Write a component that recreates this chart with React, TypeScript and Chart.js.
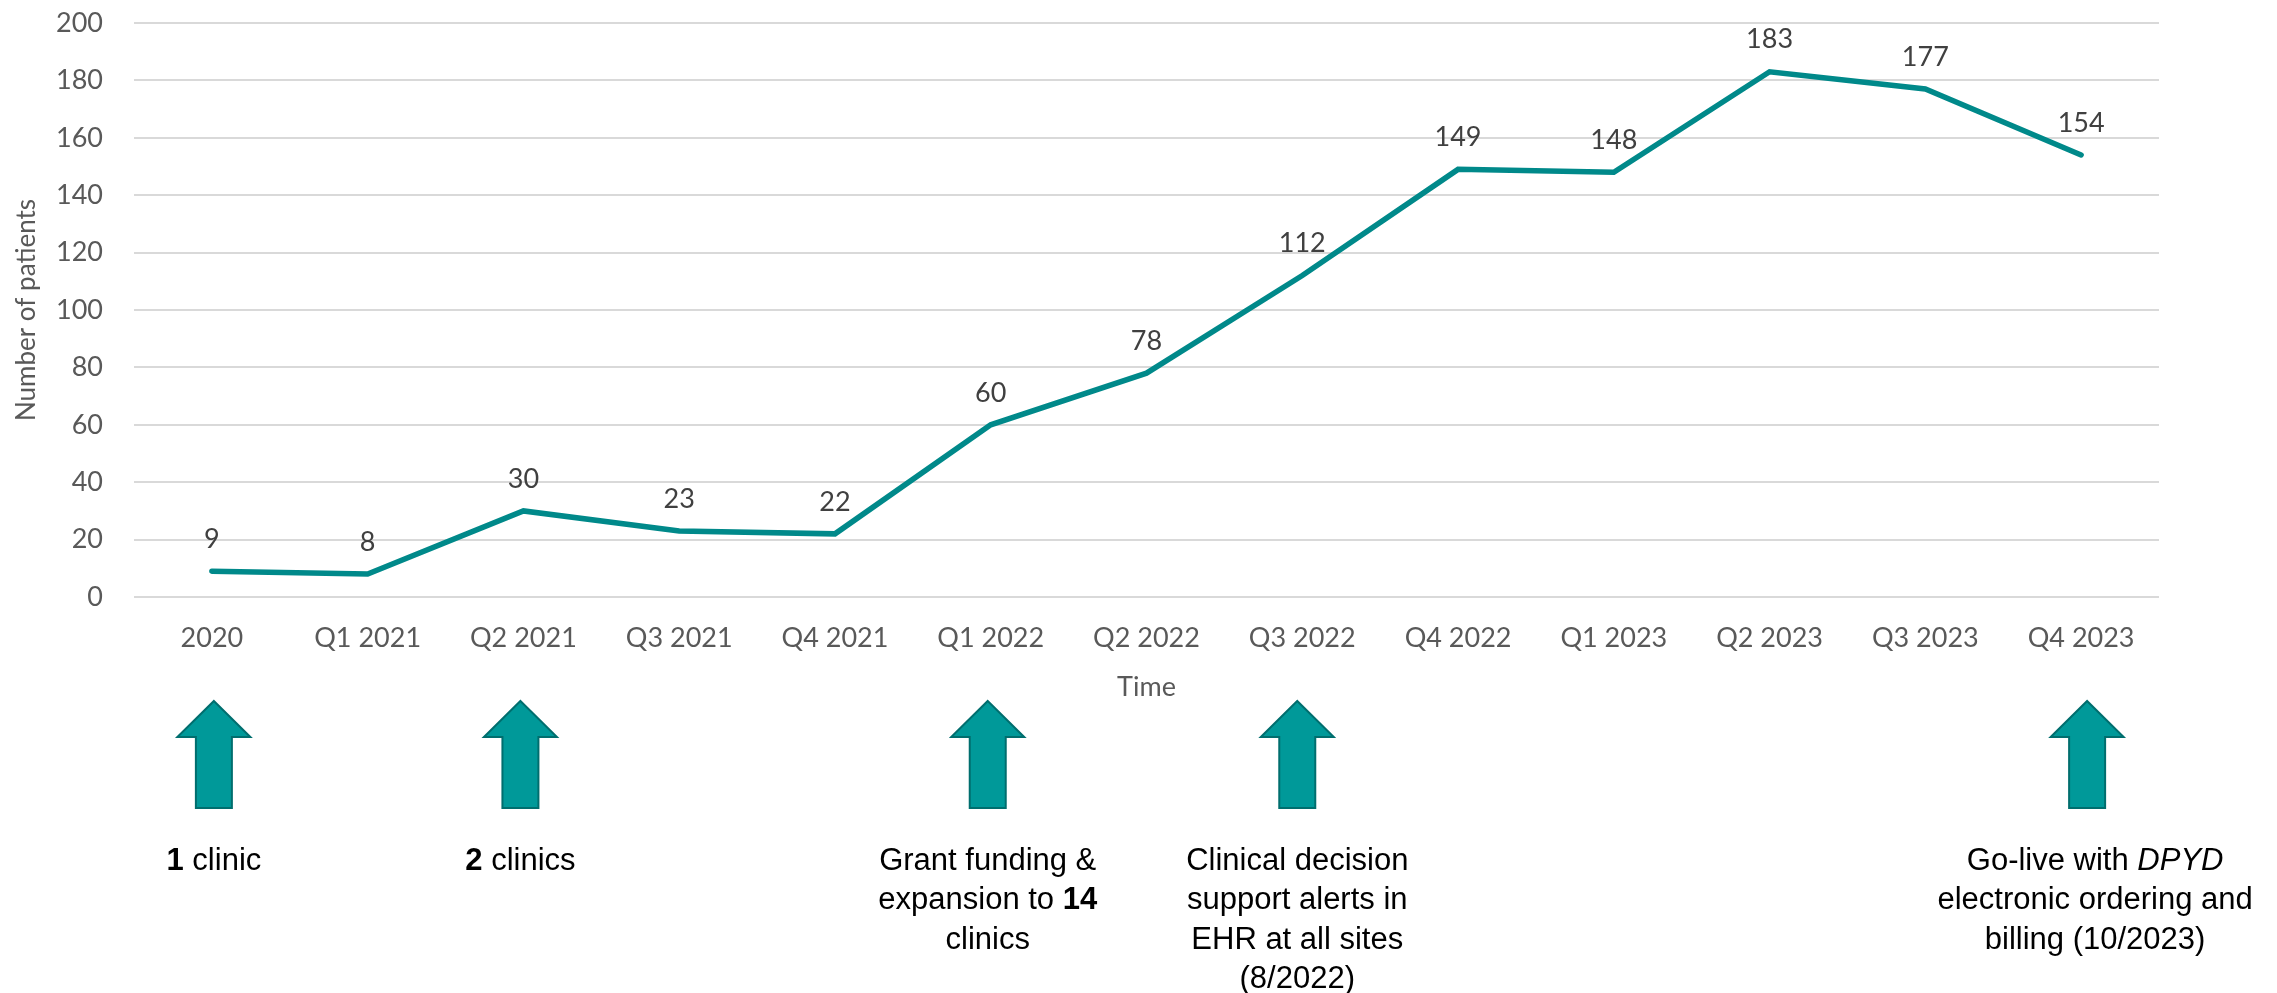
import React, { useEffect, useRef } from "react";
import { Chart, registerables } from "chart.js";

Chart.register(...registerables);

// ---- Data ----
const categories = [
  "2020", "Q1 2021", "Q2 2021", "Q3 2021", "Q4 2021", "Q1 2022", "Q2 2022",
  "Q3 2022", "Q4 2022", "Q1 2023", "Q2 2023", "Q3 2023", "Q4 2023",
];
const patients = [9, 8, 30, 23, 22, 60, 78, 112, 149, 148, 183, 177, 154];
const yMin = 0;
const yMax = 200;
const yStep = 20;
const yAxisTitle = "Number of patients";
const xAxisTitle = "Time";

// Milestones: category index + text lines (segments with styles)
type Seg = { t: string; b?: boolean; i?: boolean };
const milestoneIndex = [0, 2, 5, 7, 12];
const milestoneLines: Seg[][][] = [
  [[{ t: "1", b: true }, { t: " clinic" }]],
  [[{ t: "2", b: true }, { t: " clinics" }]],
  [
    [{ t: "Grant funding &" }],
    [{ t: "expansion to " }, { t: "14", b: true }],
    [{ t: "clinics" }],
  ],
  [
    [{ t: "Clinical decision" }],
    [{ t: "support alerts in" }],
    [{ t: "EHR at all sites" }],
    [{ t: "(8/2022)" }],
  ],
  [
    [{ t: "Go-live with " }, { t: "DPYD", i: true }],
    [{ t: "electronic ordering and" }],
    [{ t: "billing (10/2023)" }],
  ],
];
const milestoneDx = [2, -3, -3, -5, 6];
const milestoneTextDx = [2, -3, -3, -5, 14];

// ---- Styles ----
const LINE = "#00898A";
const ARROW_FILL = "#009999";
const ARROW_STROKE = "#006E6E";
const AXIS_TXT = "#595959";
const LABEL_TXT = "#404040";
const GRID = "#D9D9D9";
const FONT = "Lato";

const overlay = {
  id: "overlay",
  afterDatasetsDraw(chart: any) {
    const ctx = chart.ctx as CanvasRenderingContext2D;
    const meta = chart.getDatasetMeta(0);
    ctx.save();
    ctx.font = `27px ${FONT}`;
    ctx.fillStyle = LABEL_TXT;
    ctx.textAlign = "center";
    ctx.textBaseline = "middle";
    meta.data.forEach((pt: any, i: number) => {
      ctx.fillText(String(patients[i]), pt.x, pt.y - 32);
    });
    ctx.restore();
  },
  afterDraw(chart: any) {
    const ctx = chart.ctx as CanvasRenderingContext2D;
    const xs = chart.scales.x;
    const tipY = 701, baseY = 737, bottomY = 808, headHalf = 36.5, shaftHalf = 18;
    const textTop = 861, lineH = 39.5;
    milestoneIndex.forEach((idx, k) => {
      const cx = xs.getPixelForValue(idx) + milestoneDx[k];
      ctx.save();
      ctx.beginPath();
      ctx.moveTo(cx, tipY);
      ctx.lineTo(cx + headHalf, baseY);
      ctx.lineTo(cx + shaftHalf, baseY);
      ctx.lineTo(cx + shaftHalf, bottomY);
      ctx.lineTo(cx - shaftHalf, bottomY);
      ctx.lineTo(cx - shaftHalf, baseY);
      ctx.lineTo(cx - headHalf, baseY);
      ctx.closePath();
      ctx.fillStyle = ARROW_FILL;
      ctx.fill();
      ctx.lineWidth = 2;
      ctx.strokeStyle = ARROW_STROKE;
      ctx.stroke();
      ctx.restore();

      const tx = xs.getPixelForValue(idx) + milestoneTextDx[k];
      const size = 31;
      milestoneLines[k].forEach((segs, li) => {
        const fontOf = (s: Seg) =>
          `${s.i ? "italic " : ""}${s.b ? "bold " : ""}${size}px "Liberation Sans", Arial, sans-serif`;
        let total = 0;
        const widths = segs.map((s) => {
          ctx.font = fontOf(s);
          const w = ctx.measureText(s.t).width;
          total += w;
          return w;
        });
        ctx.save();
        ctx.fillStyle = "#000000";
        ctx.textAlign = "left";
        ctx.textBaseline = "middle";
        let x = tx - total / 2;
        const y = textTop + li * lineH;
        segs.forEach((s, si) => {
          ctx.font = fontOf(s);
          ctx.fillText(s.t, x, y);
          x += widths[si];
        });
        ctx.restore();
      });
    });
  },
};

export default function App() {
  const ref = useRef<HTMLCanvasElement | null>(null);
  useEffect(() => {
    document.body.style.margin = "0";
    const canvas = ref.current!;
    const chart = new Chart(canvas, {
      type: "line",
      data: {
        labels: categories,
        datasets: [
          {
            data: patients,
            borderColor: LINE,
            backgroundColor: LINE,
            borderWidth: 5.5,
            pointRadius: 0,
            tension: 0,
            borderCapStyle: "round",
            borderJoinStyle: "miter",
            fill: false,
          },
        ],
      },
      options: {
        responsive: false,
        animation: false,
        devicePixelRatio: 1,
        layout: { padding: { left: 0, top: 23, right: 118, bottom: 290 } },
        plugins: {
          legend: { display: false },
          tooltip: { enabled: false },
          title: { display: false },
        },
        scales: {
          x: {
            type: "category",
            offset: true,
            grid: { display: false },
            border: { display: false },
            ticks: {
              font: { family: FONT, size: 27 },
              color: AXIS_TXT,
              padding: 17,
              maxRotation: 0,
              autoSkip: false,
            },
            title: {
              display: true,
              text: xAxisTitle,
              font: { family: FONT, size: 27 },
              color: AXIS_TXT,
              padding: 0,
            },
            afterFit: (s: any) => {
              s.height = 106;
              s.paddingLeft = 0;
              s.paddingRight = 0;
            },
          },
          y: {
            min: yMin,
            max: yMax,
            grid: { color: GRID, lineWidth: 2, drawTicks: false },
            border: { display: false },
            ticks: {
              stepSize: yStep,
              font: { family: FONT, size: 27 },
              color: AXIS_TXT,
              padding: 31,
            },
            title: {
              display: true,
              text: yAxisTitle,
              font: { family: FONT, size: 26 },
              color: AXIS_TXT,
              padding: { top: 11, bottom: 0 },
            },
            afterFit: (s: any) => {
              s.width = 134;
              s.paddingTop = 0;
              s.paddingBottom = 0;
            },
          },
        },
      },
      plugins: [overlay],
    });
    return () => chart.destroy();
  }, []);
  return (
    <div style={{ width: 2277, height: 993, background: "#ffffff" }}>
      <canvas ref={ref} width={2277} height={993} style={{ display: "block" }} />
    </div>
  );
}
